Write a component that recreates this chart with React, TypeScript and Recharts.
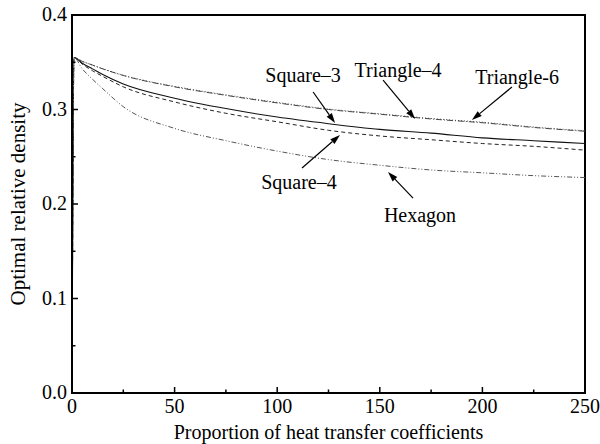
import React from "react";
import {
  LineChart,
  Line,
  XAxis,
  YAxis,
  ReferenceArea,
  ReferenceLine,
  ReferenceDot,
} from "recharts";

// heat transfer coefficient ratio
const xValues = [0, 1, 5, 10, 15, 25, 50, 75, 100, 125, 150, 175, 200, 225, 250];

const triangle6 = [0, 0.355, 0.351, 0.347, 0.343, 0.336, 0.324, 0.315, 0.307, 0.3, 0.295, 0.29, 0.286, 0.281, 0.277];
const triangle4 = [0, 0.355, 0.351, 0.347, 0.3432, 0.3363, 0.3245, 0.3155, 0.3075, 0.3005, 0.2955, 0.2905, 0.2865, 0.2815, 0.2775];
const square3 = [0, 0.355, 0.349, 0.343, 0.337, 0.327, 0.312, 0.301, 0.292, 0.285, 0.279, 0.275, 0.27, 0.267, 0.264];
const square4 = [0, 0.355, 0.348, 0.341, 0.335, 0.324, 0.308, 0.296, 0.287, 0.278, 0.272, 0.268, 0.264, 0.261, 0.257];
const hexagon = [0, 0.355, 0.343, 0.332, 0.322, 0.303, 0.28, 0.267, 0.256, 0.247, 0.241, 0.236, 0.233, 0.23, 0.228];

const xTicks = [0, 25, 50, 75, 100, 125, 150, 175, 200, 225, 250];
const yTicks = [0, 0.05, 0.1, 0.15, 0.2, 0.25, 0.3, 0.35, 0.4];

// label text, label anchor, arrow tail, arrow head (data units)
const notes = [
  { text: "Square\u20133", at: [112.6, 0.329], from: [117.5, 0.3185], to: [128.2, 0.2857] },
  { text: "Triangle\u20134", at: [158.9, 0.3344], from: [151.6, 0.3312], to: [167.2, 0.29] },
  { text: "Triangle-6", at: [216.9, 0.327], from: [214.4, 0.3238], to: [194.9, 0.2889] },
  { text: "Square\u20134", at: [110.6, 0.2159], from: [112.1, 0.2381], to: [130.6, 0.273] },
  { text: "Hexagon", at: [169.6, 0.181], from: [166.2, 0.2063], to: [154, 0.2339] },
];

const data = xValues.map((x, i) => ({
  x,
  tri6: triangle6[i],
  tri4: triangle4[i],
  sq3: square3[i],
  sq4: square4[i],
  hex: hexagon[i],
}));

const FONT = "'Liberation Serif', 'Times New Roman', serif";
const textStyle = { fontFamily: FONT, fill: "#000" };

const XTick = (props: any) => {
  const { x, y, payload } = props;
  const major = payload.value % 50 === 0;
  return (
    <g>
      <line x1={x} y1={y} x2={x} y2={y - (major ? 6 : 3.5)} stroke="#000" strokeWidth={1.5} />
      {major && (
        <text x={x} y={y + 20} textAnchor="middle" fontSize={20} style={textStyle}>
          {payload.value}
        </text>
      )}
    </g>
  );
};

const YTick = (props: any) => {
  const { x, y, payload } = props;
  const major = Math.round(payload.value * 100) % 10 === 0;
  return (
    <g>
      <line x1={x} y1={y} x2={x + (major ? 6 : 3.5)} y2={y} stroke="#000" strokeWidth={1.5} />
      {major && (
        <text x={x - 5} y={y + 6} textAnchor="end" fontSize={20} style={textStyle}>
          {payload.value.toFixed(1)}
        </text>
      )}
    </g>
  );
};

const Arrow = (props: any) => {
  const { x1, y1, x2, y2 } = props;
  const a = Math.atan2(y2 - y1, x2 - x1);
  const len = 10;
  const w = 3.2;
  const bx = x2 - len * Math.cos(a);
  const by = y2 - len * Math.sin(a);
  const px = -Math.sin(a) * w;
  const py = Math.cos(a) * w;
  return (
    <g>
      <line x1={x1} y1={y1} x2={bx} y2={by} stroke="#000" strokeWidth={1.2} />
      <polygon points={`${x2},${y2} ${bx + px},${by + py} ${bx - px},${by - py}`} fill="#000" />
    </g>
  );
};

export default function App() {
  return (
    <div style={{ width: 600, height: 444 }}>
      <style>{"body{margin:0}"}</style>
      <LineChart width={600} height={444} data={data} margin={{ top: 15, right: 15, left: 0, bottom: 0 }}>
        <XAxis
          dataKey="x"
          type="number"
          domain={[0, 250]}
          ticks={xTicks}
          interval={0}
          height={51}
          tickSize={0}
          tickMargin={0}
          axisLine={{ stroke: "#000", strokeWidth: 2 }}
          tickLine={false}
          tick={<XTick />}
          label={{
            value: "Proportion of heat transfer coefficients",
            position: "insideBottom",
            offset: 5,
            style: { ...textStyle, fontSize: 20 },
          }}
        />
        <YAxis
          type="number"
          domain={[0, 0.4]}
          ticks={yTicks}
          interval={0}
          width={72}
          tickSize={0}
          tickMargin={0}
          axisLine={{ stroke: "#000", strokeWidth: 2 }}
          tickLine={false}
          tick={<YTick />}
          label={{
            value: "Optimal relative density",
            angle: -90,
            position: "insideLeft",
            offset: 18,
            style: { ...textStyle, fontSize: 21, textAnchor: "middle" },
          }}
        />
        <ReferenceArea x1={0} x2={250} y1={0} y2={0.4} fill="none" stroke="#000" strokeWidth={2} />
        <Line dataKey="tri4" type="monotone" stroke="#555" strokeWidth={1} strokeDasharray="1 2" dot={false} isAnimationActive={false} />
        <Line dataKey="tri6" type="monotone" stroke="#444" strokeWidth={1} strokeDasharray="6 2 1 2" dot={false} isAnimationActive={false} />
        <Line dataKey="sq3" type="monotone" stroke="#111" strokeWidth={1.1} dot={false} isAnimationActive={false} />
        <Line dataKey="sq4" type="monotone" stroke="#222" strokeWidth={1} strokeDasharray="4 3" dot={false} isAnimationActive={false} />
        <Line dataKey="hex" type="monotone" stroke="#555" strokeWidth={1} strokeDasharray="5 2 1 2 1 2" dot={false} isAnimationActive={false} />
        {notes.map((n) => (
          <ReferenceLine
            key={"a" + n.text}
            segment={[
              { x: n.from[0], y: n.from[1] },
              { x: n.to[0], y: n.to[1] },
            ]}
            shape={<Arrow />}
          />
        ))}
        {notes.map((n) => (
          <ReferenceDot
            key={"t" + n.text}
            x={n.at[0]}
            y={n.at[1]}
            r={0}
            shape={(p: any) => (
              <text x={p.cx} y={p.cy} textAnchor="middle" fontSize={20} style={textStyle}>
                {n.text}
              </text>
            )}
          />
        ))}
      </LineChart>
    </div>
  );
}
